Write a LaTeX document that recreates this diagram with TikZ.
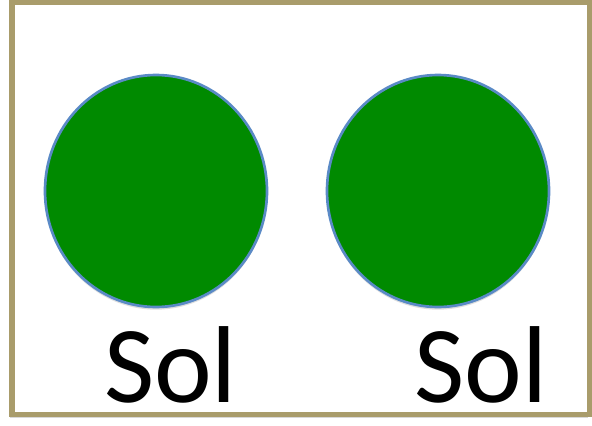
\documentclass[tikz,border=0pt]{standalone}
\usepackage{fontspec}
\setmainfont{Carlito}
\usetikzlibrary{shapes.geometric,shadows}
\definecolor{frameolive}{HTML}{A99C6B}
\definecolor{sungreen}{HTML}{008A00}
\definecolor{rimblue}{HTML}{5A8AC6}

\begin{document}
\begin{tikzpicture}[x=0.75pt,y=-0.75pt,
  frame/.style={draw=frameolive,line width=3.9pt,fill=white,
    drop shadow={shadow xshift=-1.5pt,shadow yshift=-2.5pt,opacity=0.3}},
  sun/.style={ellipse,draw=rimblue,line width=2pt,fill=sungreen,inner sep=0pt,
    minimum width=166.5pt,minimum height=174pt,
    drop shadow={shadow xshift=0pt,shadow yshift=-2pt,opacity=0.25}},
  label/.style={anchor=base,inner sep=0pt,font=\fontsize{82}{84}\selectfont}]
  \useasboundingbox (0,0) rectangle (592,425);
  \fill[white] (0,0) rectangle (592,425);
  \draw[frame] (12,2.5) rectangle (589.5,414.5);
  \node[sun] (sunL) at (156,191) {};
  \node[sun] (sunR) at (438,191) {};
  \node[label] (solL) at (170.5,402) {Sol};
  \node[label] (solR) at (481,402) {Sol};
\end{tikzpicture}
\end{document}
